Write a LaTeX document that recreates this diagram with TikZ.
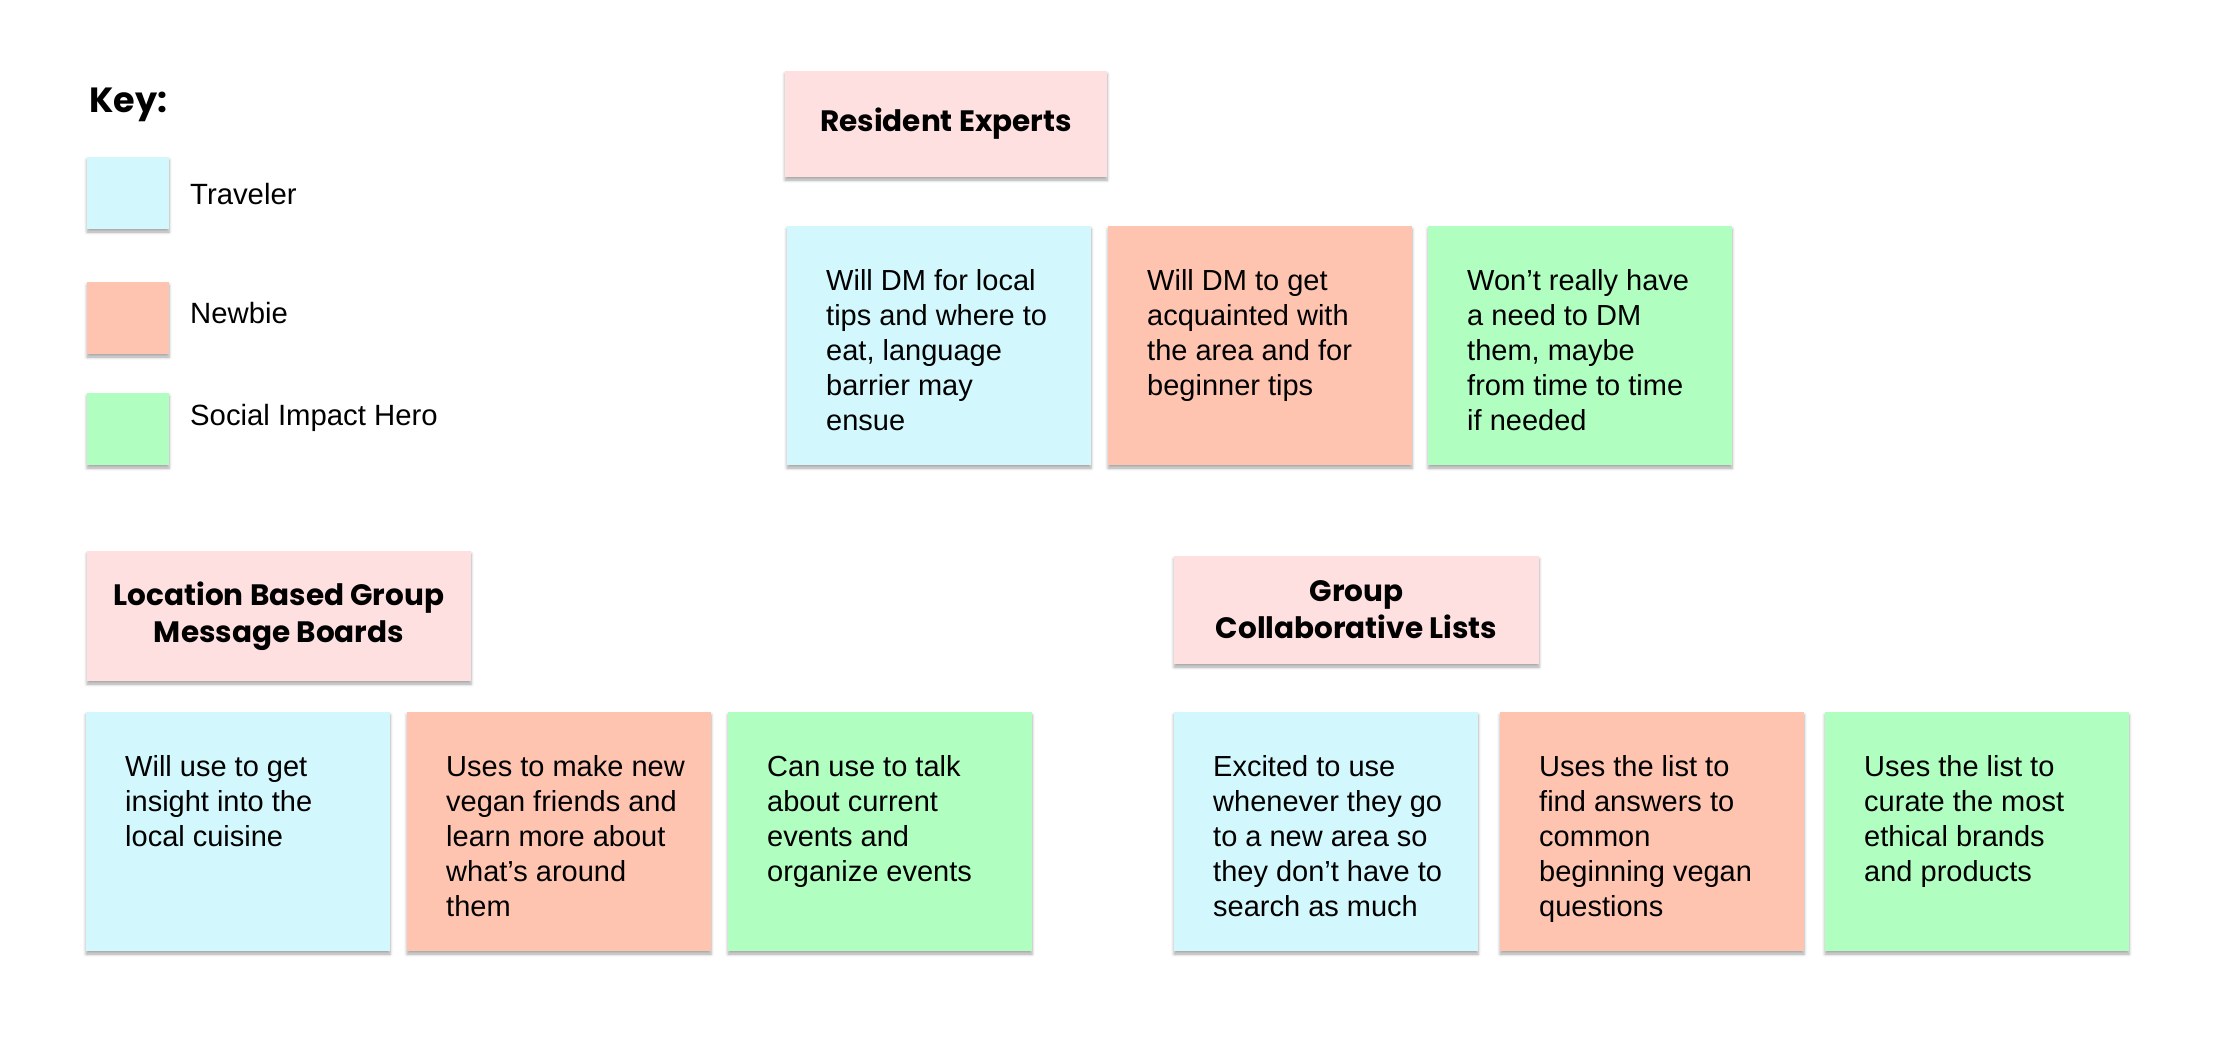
\documentclass[tikz,border=0pt]{standalone}
\usepackage{fontspec}
\setmainfont{Liberation Sans}
\newfontfamily\headfont{Poppins}
\usetikzlibrary{shadows.blur}

\definecolor{travelerblue}{HTML}{D2F8FD}
\definecolor{newbieorange}{HTML}{FFC4B0}
\definecolor{herogreen}{HTML}{B0FEC0}
\definecolor{headpink}{HTML}{FFE0E0}

\tikzset{
  card/.style={rectangle, inner sep=0pt, outer sep=0pt,
    blur shadow={shadow xshift=0pt, shadow yshift=-3pt,
                 shadow blur radius=3pt, shadow opacity=35}},
  stickynote/.style={card, fill=#1, minimum width=304pt, minimum height=239pt},
  headbox/.style={card, fill=headpink, align=center,
    font=\headfont\bfseries\fontsize{29.5}{37}\selectfont},
  swatch/.style={card, fill=#1, minimum width=82pt, minimum height=72pt},
  notetext/.style={inner sep=0pt, anchor=base west, align=left,
    font=\fontsize{29}{35}\selectfont},
  keytext/.style={inner sep=0pt, anchor=base west,
    font=\fontsize{29.3}{35}\selectfont},
}

% a sticky note: name, top-left corner, fill colour, text (lines split by \\)
\newcommand{\stickycard}[5]{%
  \node[stickynote=#4, anchor=north west] (#1) at (#2,#3) {};
  \node[notetext] (#1-txt) at ([shift={(39pt,-64pt)}]#1.north west)
    {\parbox[t]{260pt}{\raggedright #5}};
}

\begin{document}
\begin{tikzpicture}[x=1pt, y=-1pt]
  \useasboundingbox (0,0) rectangle (2215,1053);

  % key
  \node[inner sep=0pt, anchor=base west,
        font=\headfont\bfseries\fontsize{35}{40}\selectfont] (keytitle) at (89,112) {Key:};
  \node[swatch=travelerblue, anchor=north west] (swT) at (87,157) {};
  \node[swatch=newbieorange, anchor=north west] (swN) at (87,282) {};
  \node[swatch=herogreen, anchor=north west] (swS) at (87,393) {};
  \node[keytext] (kT) at (190,204) {Traveler};
  \node[keytext] (kN) at (190,323) {Newbie};
  \node[keytext] (kS) at (190,425) {Social Impact Hero};

  % resident experts
  \node[headbox, minimum width=322pt, minimum height=106pt, anchor=north west]
    (res) at (785,71) {Resident Experts};
  \stickycard{r1}{787}{226}{travelerblue}{Will DM for local\\tips and where to\\eat, language\\barrier may\\ensue}
  \stickycard{r2}{1108}{226}{newbieorange}{Will DM to get\\acquainted with\\the area and for\\beginner tips}
  \stickycard{r3}{1428}{226}{herogreen}{Won’t really have\\a need to DM\\them, maybe\\from time to time\\if needed}

  % location based group message boards
  \node[headbox, minimum width=384pt, minimum height=130pt, anchor=north west]
    (loc) at (87,551) {Location Based Group\\Message Boards};
  \stickycard{l1}{86}{712}{travelerblue}{Will use to get\\insight into the\\local cuisine}
  \stickycard{l2}{407}{712}{newbieorange}{Uses to make new\\vegan friends and\\learn more about\\what’s around\\them}
  \stickycard{l3}{728}{712}{herogreen}{Can use to talk\\about current\\events and\\organize events}

  % group collaborative lists
  \node[headbox, minimum width=365pt, minimum height=108pt, anchor=north west]
    (grp) at (1174,556) {Group\\Collaborative Lists};
  \stickycard{g1}{1174}{712}{travelerblue}{Excited to use\\whenever they go\\to a new area so\\they don’t have to\\search as much}
  \stickycard{g2}{1500}{712}{newbieorange}{Uses the list to\\find answers to\\common\\beginning vegan\\questions}
  \stickycard{g3}{1825}{712}{herogreen}{Uses the list to\\curate the most\\ethical brands\\and products}
\end{tikzpicture}
\end{document}
